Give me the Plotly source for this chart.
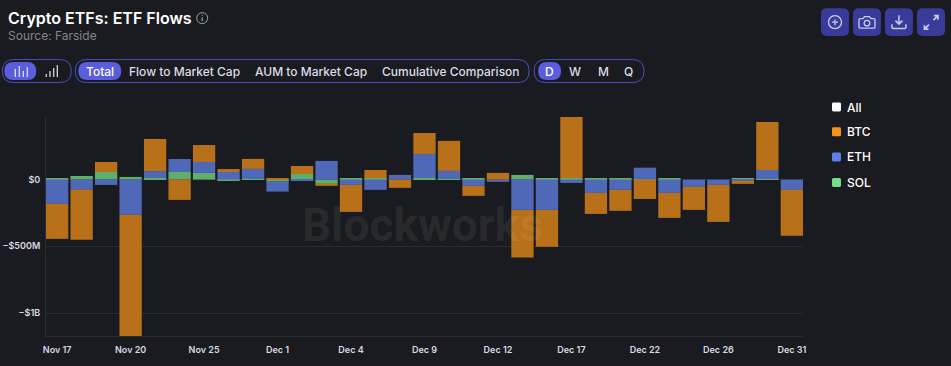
import re
import plotly.graph_objects as go

# Trading days
dates = ["Nov 17","Nov 18","Nov 19","Nov 20","Nov 21","Nov 24","Nov 25","Nov 26","Nov 28",
         "Dec 1","Dec 2","Dec 3","Dec 4","Dec 5","Dec 8","Dec 9","Dec 10","Dec 11","Dec 12",
         "Dec 15","Dec 16","Dec 17","Dec 18","Dec 19","Dec 22","Dec 23","Dec 24","Dec 26",
         "Dec 29","Dec 30","Dec 31"]
# Flows in $M
sol = [5,27,57,20,12,57,50,-7,5,-15,42,-32,5,12,0,12,5,12,0,35,5,12,12,5,2,5,0,0,5,5,0]
eth = [-182,-77,-40,-264,52,97,82,57,75,-75,-10,140,-40,-77,35,180,60,-47,-17,-227,-227,-25,-100,-77,87,-100,-55,-40,-10,67,-77]
btc = [-262,-374,75,-930,240,-152,127,22,75,5,60,-15,-202,60,-62,157,225,-75,50,-357,-277,457,-157,-157,-145,-187,-172,-277,-22,359,-344]
tick_labels = ["Nov 17","Nov 20","Nov 25","Dec 1","Dec 4","Dec 9","Dec 12","Dec 17","Dec 22","Dec 26","Dec 31"]
y_ticks = [0, -500, -1000]
y_labels = ["$0", "−$500M", "−$1B"]

BG = "#1a1b20"
FONT = "Inter, 'Noto Sans', sans-serif"
L, R, T, B = 45.7, 803.0, 117.0, 336.3
W, H = 951, 366

def px(x): return (x - L) / (R - L)
def py(y): return (B - y) / (B - T)

def conv(path):
    toks = re.findall(r"[MLCQZ]|-?\d+\.?\d*", path)
    out, is_x = [], True
    for t in toks:
        if t in "MLCQZ":
            out.append(t); is_x = True
        else:
            out.append(f"{px(float(t)):.5f}" if is_x else f"{py(float(t)):.5f}")
            is_x = not is_x
    return " ".join(out)

shapes, notes = [], []
def shape(path, fill=None, line=None, lw=1):
    shapes.append(dict(type="path", xref="paper", yref="paper", path=conv(path), layer="above",
                       fillcolor=fill or "rgba(0,0,0,0)",
                       line=dict(color=line or "rgba(0,0,0,0)", width=lw if line else 0)))
def rrect(x0, y0, x1, y1, r):
    return (f"M {x0+r} {y0} L {x1-r} {y0} Q {x1} {y0} {x1} {y0+r} L {x1} {y1-r} Q {x1} {y1} {x1-r} {y1} "
            f"L {x0+r} {y1} Q {x0} {y1} {x0} {y1-r} L {x0} {y0+r} Q {x0} {y0} {x0+r} {y0} Z")
def circ(cx, cy, r):
    k = 0.5523 * r
    return (f"M {cx+r} {cy} C {cx+r} {cy+k} {cx+k} {cy+r} {cx} {cy+r} C {cx-k} {cy+r} {cx-r} {cy+k} {cx-r} {cy} "
            f"C {cx-r} {cy-k} {cx-k} {cy-r} {cx} {cy-r} C {cx+k} {cy-r} {cx+r} {cy-k} {cx+r} {cy} Z")
def text(x, y, s, size=12, color="#e6e6ee", anchor="left", weight=400, family=FONT):
    notes.append(dict(xref="paper", yref="paper", x=px(x), y=py(y), text=s, showarrow=False,
                      xanchor=anchor, yanchor="middle", align=anchor, borderpad=0, borderwidth=0,
                      font=dict(family=family, size=size, color=color, weight=weight)))

# Header
text(8, 17.5, "Crypto ETFs: ETF Flows", 16, "#ffffff", weight=600)
text(8, 35, "Source: Farside", 12, "#83858c")
shape(circ(202, 18, 5.5), line="#9a9ba2", lw=1)
shape("M 202 17 L 202 21", line="#9a9ba2", lw=1.2)
shape("M 202 14.6 L 202 15.6", line="#9a9ba2", lw=1.2)

# Controls
PILL, ACT, LABEL = "#4b4dc4", "#5a5ddc", "#dcdce6"
for a, b in [(2, 71), (75, 529), (534, 644)]:
    shape(rrect(a, 59.5, b, 82.5, 11.5), line=PILL, lw=1)
for a, b in [(4, 36), (78, 121), (538, 561)]:
    shape(rrect(a, 62, b, 80, 9), fill=ACT)
for x, top in [(15, 69), (19, 66), (23, 71), (27, 67)]:
    shape(f"M {x} {top} L {x} 77", line="#dfe0fa", lw=1.3)
for x, top in [(46, 74), (49.7, 71), (53.4, 68), (57, 65)]:
    shape(f"M {x} {top} L {x} 77", line="#d6d6de", lw=1.3)
for x, s in [(100, "Total"), (184.5, "Flow to Market Cap"), (311, "AUM to Market Cap"), (451, "Cumulative Comparison"),
             (549, "D"), (575, "W"), (603, "M"), (628.5, "Q")]:
    text(x, 71, s, 12, "#ffffff" if s in ("Total", "D") else LABEL, "center", 500)

# Toolbar
BTN, ICON = "#393b9a", "#c9cbef"
for a in (821, 853, 885, 917):
    shape(rrect(a, 8, a + 28, 36, 6), fill=BTN)
shape(circ(835, 22, 6.5), line=ICON, lw=1.3)
shape("M 835 19 L 835 25 M 832 22 L 838 22", line=ICON, lw=1.3)
shape("M 860 18.5 L 863 18.5 L 864.5 16.5 L 869.5 16.5 L 871 18.5 L 874 18.5 Q 875 18.5 875 19.5 L 875 27 Q 875 28 874 28 "
      "L 860 28 Q 859 28 859 27 L 859 19.5 Q 859 18.5 860 18.5 Z", line=ICON, lw=1.3)
shape(circ(867, 23, 2.8), line=ICON, lw=1.3)
shape("M 899 15 L 899 24 M 895.5 20.5 L 899 24 L 902.5 20.5 M 892 24 L 892 27 Q 892 28.5 893.5 28.5 L 904.5 28.5 Q 906 28.5 906 27 L 906 24",
      line=ICON, lw=1.5)
shape("M 933.5 20 L 938 15.5 M 934 15.5 L 938 15.5 L 938 19.5 M 929 24.5 L 924.5 29 M 924.5 25 L 924.5 29 L 928.5 29",
      line=ICON, lw=1.7)

# Legend
legend_items = [("All", "#ffffff", 107), ("BTC", "#f7931a", 131.8), ("ETH", "#627eea", 157), ("SOL", "#76dc85", 182.5)]
for name, col, y in legend_items:
    shape(rrect(832, y - 4.5, 841, y + 4.5, 1.5), fill=col)
    text(847, y, name, 12, "#ffffff", weight=500)

# Watermark
text(422.5, 225, "Blockworks", 46, "rgba(255,255,255,0.07)", "center", 700, family="Roboto")

fig = go.Figure()
for name, vals, col in [("SOL", sol, "#5fae6b"), ("ETH", eth, "#5068b8"), ("BTC", btc, "#b87119")]:
    fig.add_bar(x=dates, y=vals, name=name, marker=dict(color=col, line=dict(width=0)))

fig.update_layout(
    width=W, height=H, barmode="relative", bargap=0.09, showlegend=False,
    paper_bgcolor=BG, plot_bgcolor=BG,
    margin=dict(l=L, r=W - R, t=T, b=H - B, pad=0, autoexpand=False),
    shapes=shapes, annotations=notes, font=dict(family=FONT),
    xaxis=dict(type="category", categoryorder="array", categoryarray=dates, range=[-0.455, 30.455],
               tickmode="array", tickvals=tick_labels, ticktext=tick_labels, ticks="", automargin=False,
               tickfont=dict(size=9, color="#d8dae2", weight=600), showgrid=False, zeroline=False,
               showline=True, linecolor="#2c2d32", linewidth=1, ticklabelstandoff=5),
    yaxis=dict(range=[-1172, 469], tickmode="array", tickvals=y_ticks, ticktext=y_labels, ticks="", automargin=False,
               tickfont=dict(size=9, color="#d8dae2", weight=600), gridcolor="#2c2d32", gridwidth=1,
               zeroline=False, showline=True, linecolor="#2c2d32", linewidth=1, ticklabelstandoff=3),
)
fig.write_html("out.html", config=dict(displayModeBar=False),
               post_script="document.body.style.margin='0';document.body.style.background='#1a1b20';")
